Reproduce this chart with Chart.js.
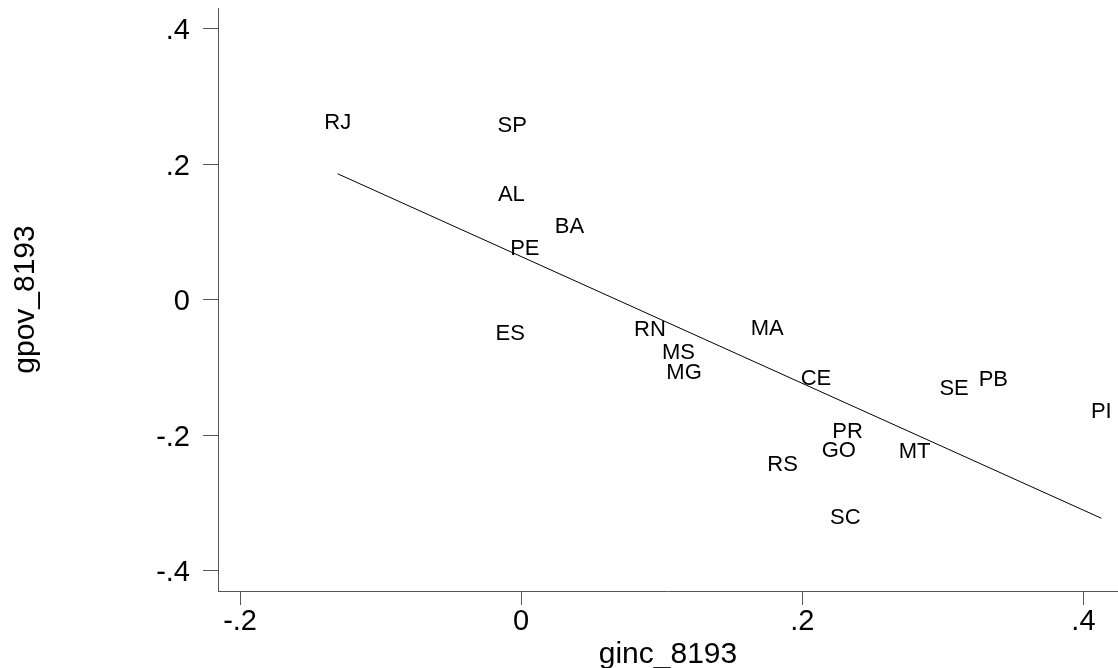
<!DOCTYPE html>
<html>
<head>
<meta charset="utf-8">
<title>gpov_8193 vs ginc_8193</title>
<script src="https://cdn.jsdelivr.net/npm/chart.js@4/dist/chart.umd.min.js"></script>
<style>
  html, body { margin: 0; padding: 0; background: #ffffff; }
  #wrap { width: 1118px; height: 668px; position: relative; }
</style>
</head>
<body>
<div id="wrap"><canvas id="chart"></canvas></div>
<script>
// State codes and their growth values (income, poverty), 1981-93
const states = ['RJ','SP','AL','BA','PE','ES','RN','MS','MG','MA','CE','SE','PB','PI','PR','GO','MT','RS','SC'];
const gincValues = [-0.1305, -0.0064, -0.0070, 0.0344, 0.0026, -0.0078, 0.0916, 0.1119, 0.1159, 0.1750,
                    0.2097, 0.3080, 0.3359, 0.4127, 0.2322, 0.2260, 0.2799, 0.1860, 0.2306];
const gpovValues = [0.2611, 0.2567, 0.1544, 0.1083, 0.0746, -0.0499, -0.0443, -0.0780, -0.1083, -0.0424,
                    -0.1175, -0.1312, -0.1190, -0.1662, -0.1958, -0.2236, -0.2242, -0.2431, -0.3219];

// Fitted regression line endpoints
const fitX = [-0.1306, 0.4128];
const fitY = [0.1862, -0.3226];

// Axis ticks
const xTickValues = [-0.2, 0, 0.2, 0.4];
const xTickLabels = ['-.2', '0', '.2', '.4'];
const yTickValues = [-0.4, -0.2, 0, 0.2, 0.4];
const yTickLabels = ['-.4', '-.2', '0', '.2', '.4'];

const FONT = "'Liberation Sans', Arial, Helvetica, sans-serif";
const AXIS_GREY = '#555555';

const pointData = states.map((s, i) => ({ x: gincValues[i], y: gpovValues[i] }));
const fitData = fitX.map((x, i) => ({ x: x, y: fitY[i] }));

// Draws each state code centred on its point
const stateLabels = {
  id: 'stateLabels',
  afterDatasetsDraw(chart) {
    const meta = chart.getDatasetMeta(0);
    const ctx = chart.ctx;
    ctx.save();
    ctx.font = '22px ' + FONT;
    ctx.fillStyle = '#000000';
    ctx.textAlign = 'center';
    ctx.textBaseline = 'middle';
    meta.data.forEach((pt, i) => {
      ctx.fillText(states[i], pt.x, pt.y);
    });
    ctx.restore();
  }
};

new Chart(document.getElementById('chart'), {
  type: 'scatter',
  data: {
    datasets: [
      {
        label: 'gpov_8193',
        data: pointData,
        pointRadius: 0,
        pointHoverRadius: 0,
        showLine: false
      },
      {
        label: 'Fitted values',
        data: fitData,
        showLine: true,
        borderColor: '#000000',
        borderWidth: 1,
        pointRadius: 0,
        pointHoverRadius: 0,
        fill: false
      }
    ]
  },
  options: {
    responsive: true,
    maintainAspectRatio: false,
    animation: false,
    events: [],
    layout: { padding: { top: 8, right: 0, bottom: 0, left: 0 } },
    plugins: {
      legend: { display: false },
      tooltip: { enabled: false },
      title: { display: false }
    },
    scales: {
      x: {
        type: 'linear',
        position: 'bottom',
        min: -0.2157,
        max: 0.4246,
        afterBuildTicks: (scale) => { scale.ticks = xTickValues.map(v => ({ value: v })); },
        afterFit: (scale) => {
          scale.height = 77;
          scale.paddingLeft = 0;
          scale.paddingRight = 0;
        },
        border: { display: true, color: AXIS_GREY, width: 1 },
        grid: { display: true, drawOnChartArea: false, drawTicks: true, tickLength: 14, color: AXIS_GREY },
        ticks: {
          color: '#000000',
          font: { family: FONT, size: 29 },
          padding: 0,
          maxRotation: 0,
          autoSkip: false,
          callback: (value, index) => xTickLabels[index]
        },
        title: {
          display: true,
          text: 'ginc_8193',
          color: '#000000',
          font: { family: FONT, size: 30, lineHeight: 1 },
          padding: { top: 0, bottom: -2 }
        }
      },
      y: {
        type: 'linear',
        position: 'left',
        min: -0.430,
        max: 0.431,
        afterBuildTicks: (scale) => { scale.ticks = yTickValues.map(v => ({ value: v })); },
        afterFit: (scale) => {
          scale.width = 218;
          scale.paddingTop = 0;
          scale.paddingBottom = 0;
        },
        border: { display: true, color: AXIS_GREY, width: 1 },
        grid: { display: true, drawOnChartArea: false, drawTicks: true, tickLength: 15, color: AXIS_GREY },
        ticks: {
          color: '#000000',
          font: { family: FONT, size: 29 },
          padding: 13,
          labelOffset: 2.5,
          autoSkip: false,
          callback: (value, index) => yTickLabels[index]
        },
        title: {
          display: true,
          text: 'gpov_8193',
          color: '#000000',
          font: { family: FONT, size: 30 },
          padding: { top: 8, bottom: 0 }
        }
      }
    }
  },
  plugins: [stateLabels]
});
</script>
</body>
</html>
